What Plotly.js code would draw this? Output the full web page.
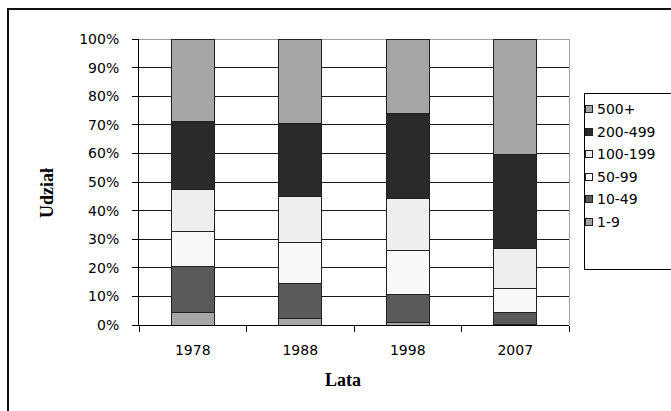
<!DOCTYPE html>
<html>
<head>
<meta charset="utf-8">
<script src="https://cdn.plot.ly/plotly-3.0.1.min.js"></script>
<style>
html,body{margin:0;padding:0;background:#fff;}
#wrap{position:relative;width:671px;height:411px;overflow:hidden;background:#fff;}
#grid{position:absolute;left:0;top:0;width:671px;height:411px;z-index:0;}
#chart{position:relative;width:671px;height:411px;z-index:1;}
.ov{position:absolute;pointer-events:none;box-sizing:border-box;z-index:2;}
#frame{left:7px;top:8px;width:680px;height:420px;border:2px solid #111;}
#plotRight{left:569px;top:39px;width:1px;height:286px;background:#a0a0a0;}
#legBox{left:584px;top:93px;width:120px;height:177px;border:1px solid #000;}
</style>
</head>
<body>
<div id="wrap">
  <div id="grid"></div>
  <div id="chart"></div>
  <div id="frame" class="ov"></div>
  <div id="plotRight" class="ov"></div>
  <div id="legBox" class="ov"></div>
</div>
<script>
// ---- data ----
const years = ['1978', '1988', '1998', '2007'];
const seriesNames = ['1-9', '10-49', '50-99', '100-199', '200-499', '500+'];
const s1_9     = [4.2, 2.3, 0.8, 0.3];
const s10_49   = [16.3, 12.1, 9.8, 3.9];
const s50_99   = [12.2, 14.5, 15.4, 8.5];
const s100_199 = [14.6, 16.0, 18.4, 14.0];
const s200_499 = [23.8, 25.6, 29.6, 33.0];
const s500p    = [28.9, 29.5, 26.0, 40.3];
const yTickVals = [0, 10, 20, 30, 40, 50, 60, 70, 80, 90, 100];
const yTickText = ['0%', '10%', '20%', '30%', '40%', '50%', '60%', '70%', '80%', '90%', '100%'];
const xTitle = 'Lata';
const yTitle = 'Udział';

// ---- styles ----
const seriesValues = [s1_9, s10_49, s50_99, s100_199, s200_499, s500p];
const colors = ['#a6a6a6', '#5a5a5a', '#f8f8f8', '#eeeeee', '#2a2a2a', '#a6a6a6'];
const tickFont = {family: 'DejaVu Sans, sans-serif', size: 14, color: '#000'};
const titleFont = {family: 'Liberation Serif, Times New Roman, serif', size: 18, color: '#000'};

const traces = seriesNames.map((n, i) => ({
  type: 'bar', name: n, x: years, y: seriesValues[i],
  width: 0.4,
  marker: {color: colors[i], line: {color: '#222', width: 1}},
  hoverinfo: 'skip'
}));

// plot area pixel mapping
const L = 139, R = 569, T = 39, B = 325;
const W = 671, H = 411;
const px = v => (v - L) / (R - L);
const py = v => (B - v) / (B - T);

// horizontal gridlines drawn behind the (transparent) chart, at the y tick values
const gridDiv = document.getElementById('grid');
yTickVals.forEach(v => {
  const d = document.createElement('div');
  const top = Math.round(B - v / 100 * (B - T) - 0.5);
  d.style.cssText = 'position:absolute;left:' + L + 'px;width:' + (R - L) + 'px;height:1px;top:' + top +
    'px;background:' + (v === 100 ? '#a0a0a0' : '#1a1a1a') + ';';
  gridDiv.appendChild(d);
});

const annotations = [
  {text: '<b>' + xTitle + '</b>', xref: 'paper', yref: 'paper', x: px(343), y: py(380),
   showarrow: false, font: titleFont, xanchor: 'center', yanchor: 'middle'},
  {text: '<b>' + yTitle + '</b>', xref: 'paper', yref: 'paper', x: px(47), y: py(193),
   showarrow: false, font: titleFont, textangle: -90, xanchor: 'center', yanchor: 'middle'}
];

// manual legend (reversed order, top = last series)
const legTop = 109, legStep = 22.6;
const wrap = document.getElementById('wrap');
for (let k = 0; k < seriesNames.length; k++) {
  const i = seriesNames.length - 1 - k;
  const cy = legTop + k * legStep;
  const sym = document.createElement('div');
  sym.className = 'ov';
  sym.style.cssText = 'left:585px;top:' + Math.round(cy - 4) + 'px;width:8px;height:8px;border:1px solid #222;background:' + colors[i] + ';';
  wrap.appendChild(sym);
  annotations.push({text: seriesNames[i], xref: 'paper', yref: 'paper',
    x: px(595), y: py(cy), xanchor: 'left', yanchor: 'middle', showarrow: false,
    font: tickFont});
}

const layout = {
  width: W, height: H,
  margin: {l: L, r: W - R, t: T, b: H - B, pad: 0},
  paper_bgcolor: 'rgba(0,0,0,0)', plot_bgcolor: 'rgba(0,0,0,0)',
  barmode: 'stack', bargap: 0.6,
  showlegend: false,
  xaxis: {type: 'category', showline: true, linecolor: '#000', linewidth: 1,
    ticks: 'outside', tickson: 'boundaries', ticklen: 6, tickcolor: '#000',
    tickfont: tickFont, showgrid: false, ticklabelstandoff: 12, fixedrange: true},
  yaxis: {range: [0, 100], tickvals: yTickVals, ticktext: yTickText,
    showline: true, linecolor: '#000', linewidth: 1,
    ticks: 'outside', ticklen: 6, tickcolor: '#000', tickfont: tickFont,
    showgrid: false, zeroline: false,
    ticklabelstandoff: 10, fixedrange: true},
  annotations: annotations
};

Plotly.newPlot('chart', traces, layout, {displayModeBar: false, staticPlot: true});
</script>
</body>
</html>
